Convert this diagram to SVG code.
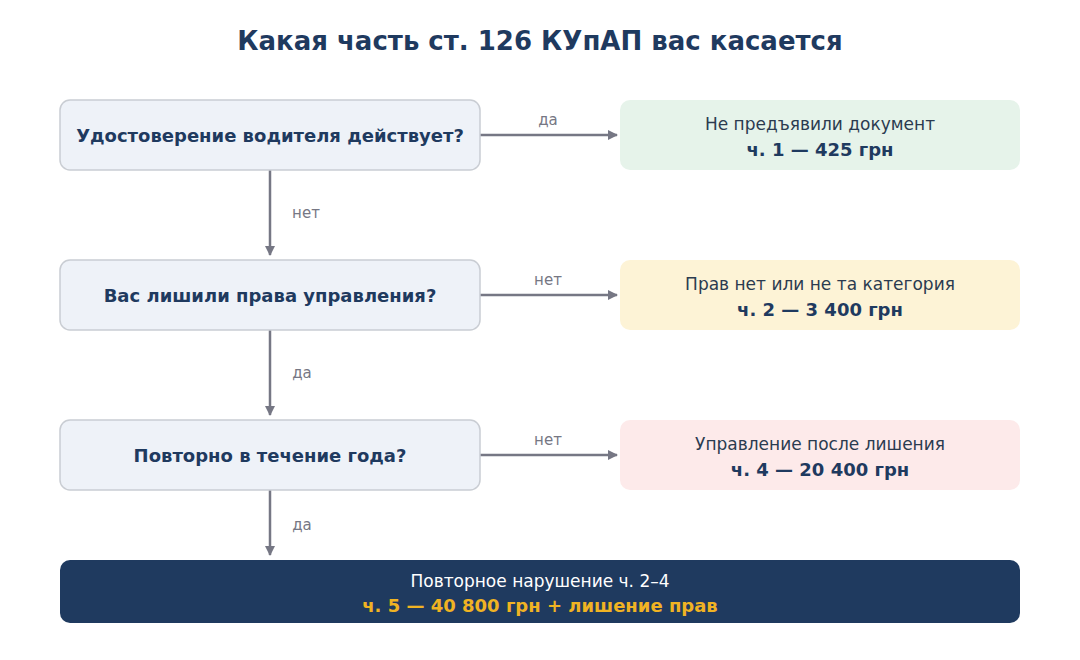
<svg xmlns="http://www.w3.org/2000/svg" width="1080" height="660" viewBox="0 0 1080 660">
<defs>
<marker id="ah" markerWidth="10" markerHeight="10" refX="9" refY="5" orient="auto" markerUnits="userSpaceOnUse" viewBox="0 0 10 10"><path d="M0,0 L10,5 L0,10 z" fill="#767784"/></marker>
<style>
text{font-family:"DejaVu Sans","Noto Sans",sans-serif;text-anchor:middle}
.q{fill:#eef2f8;stroke:#c9cdd3;stroke-width:1.5}
.qt{font-size:18px;font-weight:bold;fill:#1f3a5f}
.r1{font-size:17px;fill:#2b3b50}
.r2{font-size:18px;font-weight:bold;fill:#1f3a5f}
.lb{font-size:15px;fill:#767784}
.c{stroke:#767784;stroke-width:2.5;fill:none;marker-end:url(#ah)}
</style>
</defs>
<rect width="1080" height="660" fill="#fff"/>
<text x="540" y="50" style="font-size:26px;font-weight:bold;fill:#1f3a5f">Какая часть ст. 126 КУпАП вас касается</text>
<g id="connectors">
<path class="c" d="M480,135 H617"/><path class="c" d="M480,295 H617"/><path class="c" d="M480,455 H617"/>
<path class="c" d="M270,170 V255"/><path class="c" d="M270,330 V415"/><path class="c" d="M270,490 V555"/>
<text class="lb" x="548" y="125">да</text><text class="lb" x="548" y="285">нет</text><text class="lb" x="548" y="445">нет</text>
<text class="lb" x="306" y="218">нет</text><text class="lb" x="302" y="378">да</text><text class="lb" x="302" y="530">да</text>
</g>
<g id="q1"><rect class="q" x="60" y="100" width="420" height="70" rx="10"/><text class="qt" x="270" y="142">Удостоверение водителя действует?</text></g>
<g id="q2"><rect class="q" x="60" y="260" width="420" height="70" rx="10"/><text class="qt" x="270" y="302">Вас лишили права управления?</text></g>
<g id="q3"><rect class="q" x="60" y="420" width="420" height="70" rx="10"/><text class="qt" x="270" y="462">Повторно в течение года?</text></g>
<g id="r1"><rect x="620" y="100" width="400" height="70" rx="10" fill="#e6f3ea"/><text class="r1" x="820" y="130">Не предъявили документ</text><text class="r2" x="820" y="156">ч. 1 — 425 грн</text></g>
<g id="r2"><rect x="620" y="260" width="400" height="70" rx="10" fill="#fdf3d6"/><text class="r1" x="820" y="290">Прав нет или не та категория</text><text class="r2" x="820" y="316">ч. 2 — 3 400 грн</text></g>
<g id="r3"><rect x="620" y="420" width="400" height="70" rx="10" fill="#fdeaea"/><text class="r1" x="820" y="450">Управление после лишения</text><text class="r2" x="820" y="476">ч. 4 — 20 400 грн</text></g>
<g id="r5"><rect x="60" y="560" width="960" height="63" rx="10" fill="#1f3a5f"/><text x="540" y="587" style="font-size:17px;fill:#fff">Повторное нарушение ч. 2–4</text><text x="540" y="612" style="font-size:18px;font-weight:bold;fill:#f0b323">ч. 5 — 40 800 грн + лишение прав</text></g>
</svg>
